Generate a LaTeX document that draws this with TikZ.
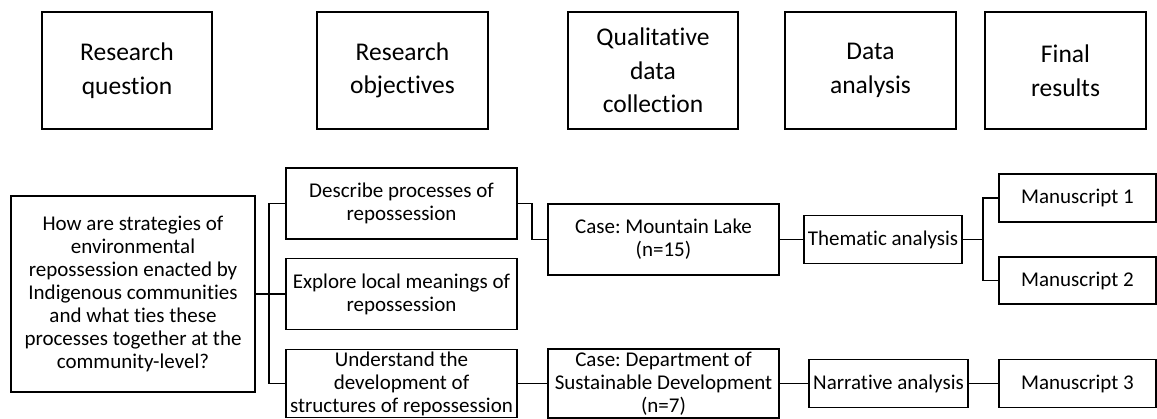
\documentclass[tikz,border=0pt]{standalone}
\usepackage{fontspec}
\setmainfont[RawFeature={-liga;-clig;-dlig;-calt}]{Carlito}
\begin{document}
\frenchspacing
\begin{tikzpicture}[x=1pt,y=-1pt,
  topbox/.style={draw, line width=1.9pt, inner sep=0pt, align=center, font=\fontsize{25.5}{33.5}\selectfont},
  bx/.style={draw, line width=1.9pt, inner sep=0pt, align=center, font=\fontsize{21}{23}\selectfont},
  conn/.style={line width=1.9pt}]
\useasboundingbox (0,0) rectangle (1157,419);
% header row
\node[topbox, minimum width=170pt, minimum height=117pt] (h1) at (127,70.5) {Research\\question};
\node[topbox, minimum width=171pt, minimum height=117pt] (h2) at (402.5,70.5) {Research\\objectives};
\node[topbox, minimum width=170pt, minimum height=117pt] (h3) at (653,70.5) {Qualitative\\data\\collection};
\node[topbox, minimum width=171pt, minimum height=117pt] (h4) at (870.5,70.5) {Data\\analysis};
\node[topbox, minimum width=161pt, minimum height=117pt] (h5) at (1065.5,70.5) {Final\\results};
% flow
\node[bx, minimum width=244pt, minimum height=196pt] (q) at (133,294) {How are strategies of\\environmental\\repossession enacted by\\Indigenous communities\\and what ties these\\processes together at the\\community-level?};
\node[bx, minimum width=231pt, minimum height=71pt] (o1) at (401.5,203.5) {Describe processes of\\repossession};
\node[bx, minimum width=231pt, minimum height=71pt] (o2) at (401.5,294) {Explore local meanings of\\repossession};
\node[bx, minimum width=231pt, minimum height=68pt] (o3) at (401.5,383.5) {Understand the\\development of\\structures of repossession};
\node[bx, minimum width=231pt, minimum height=71pt] (c1) at (663.5,239.5) {Case: Mountain Lake\\(n=15)};
\node[bx, minimum width=231pt, minimum height=69pt] (c2) at (663.5,383.5) {Case: Department of\\Sustainable Development\\(n=7)};
\node[bx, minimum width=158pt, minimum height=48pt] (t) at (883,239.5) {Thematic analysis};
\node[bx, minimum width=159pt, minimum height=48pt] (n) at (888.5,383.5) {Narrative analysis};
\node[bx, minimum width=157pt, minimum height=48pt] (m1) at (1077.5,198) {Manuscript 1};
\node[bx, minimum width=157pt, minimum height=47pt] (m2) at (1077.5,280.5) {Manuscript 2};
\node[bx, minimum width=157pt, minimum height=48pt] (m3) at (1077.5,383.5) {Manuscript 3};
% connectors
\coordinate (j1) at (269,294);
\coordinate (j2) at (983,239.5);
\coordinate (j3) at (532,203.5);
\draw[conn] (q.east) -- (o2.west);
\draw[conn] (o1.west) -| (j1) |- (o3.west);
\draw[conn] (o1.east) -- (j3) |- (c1.west);
\draw[conn] (c1.east) -- (t.west);
\draw[conn] (t.east) -- (j2);
\draw[conn] (m1.west) -| (j2) |- (m2.west);
\draw[conn] (o3.east) -- (c2.west);
\draw[conn] (c2.east) -- (n.west);
\draw[conn] (n.east) -- (m3.west);
\end{tikzpicture}
\end{document}
